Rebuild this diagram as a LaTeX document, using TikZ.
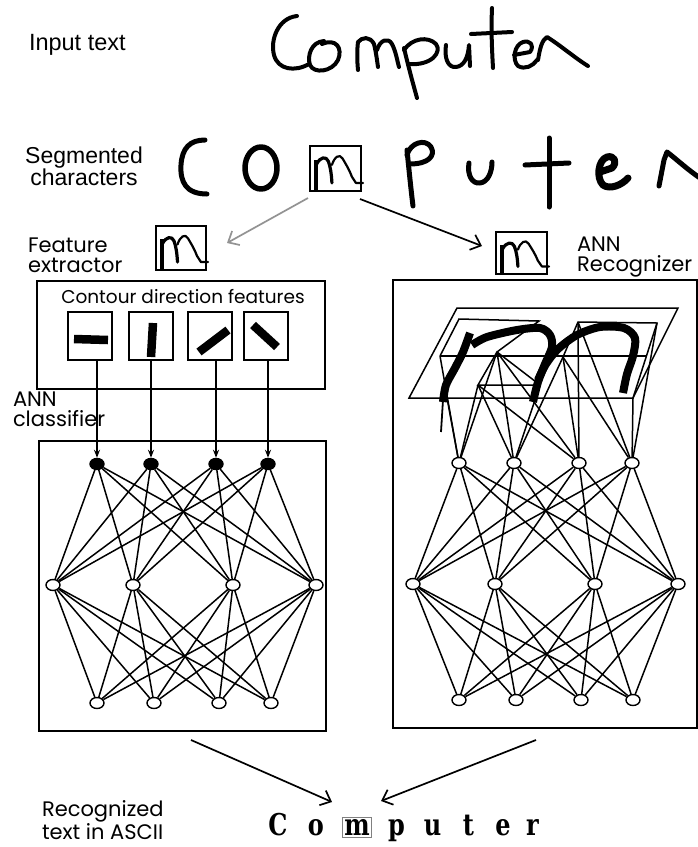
\documentclass[tikz,border=0pt]{standalone}
\usepackage{fontspec}
\setmainfont{Liberation Sans}
\newfontfamily\gothic{Poppins}
\newfontfamily\slab[FakeStretch=0.8]{DejaVu Serif}
\usetikzlibrary{arrows.meta,shapes.geometric}
\begin{document}
\begin{tikzpicture}[x=1pt,y=-1pt,
  ink/.style={line cap=round,line join=round},
  hand/.style={ink,line width=4pt},
  segink/.style={ink,line width=5pt},
  frame/.style={draw,line width=1.8pt,inner sep=0pt,outer sep=0pt},
  fbox/.style={frame,minimum width=44pt,minimum height=48pt},
  mbox/.style={draw,line width=1.8pt,inner sep=0pt,outer sep=0pt},
  wire/.style={line width=1.5pt},
  neuron/.style={ellipse,draw,line width=1.4pt,fill=white,minimum width=14pt,minimum height=11pt,inner sep=0pt},
  dark/.style={neuron,fill=black},
  bar/.style={line width=8.5pt,line cap=butt},
  flow/.style={line width=1.7pt,-{Straight Barb[length=9pt,width=16pt,line width=1.7pt]}},
  feed/.style={line width=1.5pt,-{Stealth[length=8pt,width=6pt]}},
  lab/.style={inner sep=0pt,outer sep=0pt,anchor=base west},
  hlab/.style={lab,font=\fontsize{23.5}{22}\selectfont},
  glab/.style={lab,align=left,font=\gothic\fontsize{21}{20}\selectfont},
  mglyph/.pic={
    \draw[line width=4.6pt,line cap=butt] (0.12,0.97) -- (0.12,0.3);
    \draw[line width=3.2pt,ink] (0.13,0.4) .. controls (0.2,0.24) and (0.32,0.22) .. (0.36,0.34) .. controls (0.4,0.46) and (0.42,0.62) .. (0.43,0.82);
    \draw[line width=2.2pt,ink] (0.43,0.42) .. controls (0.48,0.24) and (0.58,0.16) .. (0.64,0.28) .. controls (0.7,0.4) and (0.76,0.5) .. (0.82,0.68) -- (0.9,0.82) -- (1.04,0.82);
  },
]
\useasboundingbox (0,0) rectangle (697,847);

% ---------- Input text ----------
\node[hlab] (inlab) at (29,50) {Input text};
\draw[hand] (297,16) .. controls (278,18) and (270,40) .. (274,55) .. controls (278,70) and (295,72) .. (309,64);
\draw[hand] (324,41) .. controls (311,42) and (307,56) .. (310,65) .. controls (314,74) and (332,72) .. (338,60) .. controls (343,48) and (336,38) .. (322,44);
\draw[hand] (358,70) .. controls (357,60) and (357,50) .. (358,42) .. controls (362,37) and (370,36) .. (374,44) .. controls (376,52) and (377,60) .. (378,67);
\draw[hand] (377,50) .. controls (380,40) and (388,37) .. (392,44) .. controls (396,52) and (397,60) .. (399,67);
\draw[hand] (404,48) .. controls (408,65) and (412,80) .. (417,98);
\draw[hand] (404,50) .. controls (412,38) and (428,36) .. (436,44) .. controls (442,52) and (432,66) .. (408,64);
\draw[hand] (446,45) .. controls (444,58) and (448,68) .. (456,67) .. controls (464,66) and (468,58) .. (469,45) -- (470,66);
\draw[hand] (492,8) .. controls (491,30) and (492,50) .. (493,68);
\draw[hand] (471,34) -- (512,32);
\draw[hand] (514,55) -- (530,52) .. controls (535,45) and (530,40) .. (523,42) .. controls (514,45) and (512,60) .. (518,66) .. controls (525,70) and (533,66) .. (537,60);
\draw[hand] (538,60) .. controls (540,48) and (542,40) .. (547,37) .. controls (560,45) and (575,58) .. (588,66);

% ---------- Segmented characters ----------
\node[hlab,align=center,anchor=base,font=\fontsize{23}{22}\selectfont] (seglab) at (84,185) {Segmented\\characters};
\draw[segink] (205,140) .. controls (190,140) and (182,148) .. (181,165) .. controls (180,182) and (186,194) .. (207,194);
\draw[segink,line width=5.5pt] (261,168) ellipse [x radius=16, y radius=21];
\node[mbox,minimum width=51pt,minimum height=45pt] (segbox) at (335.5,168.5) {};
\pic[x=51pt,y=-45pt] at (segbox.north west) {mglyph};
\draw[segink] (407,150) .. controls (409,170) and (411,190) .. (413,206);
\draw[segink] (407,155) .. controls (410,143) and (425,138) .. (431,147) .. controls (436,156) and (428,164) .. (410,164);
\draw[segink] (469,163) .. controls (467,175) and (472,184) .. (480,183) .. controls (488,182) and (492,172) .. (492,162);
\draw[segink] (549,138) -- (549,207);
\draw[segink] (525,165) -- (569,163);
\draw[segink,line width=7pt] (600,172) -- (612,168) .. controls (618,162) and (614,155) .. (607,157) .. controls (598,160) and (596,178) .. (603,185) .. controls (610,190) and (622,185) .. (628,178);
\draw[segink] (659,186) -- (664,160) -- (667,152) .. controls (675,158) and (688,170) .. (700,178);

% ---------- split arrows ----------
\coordinate (ga) at (308,198);
\coordinate (gb) at (227,243);
\coordinate (ba) at (360,199);
\coordinate (bb) at (482,246);
\draw[flow,draw=gray!85] (ga) -- (gb);
\draw[flow] (ba) -- (bb);

% ---------- Feature extractor ----------
\node[glab] (featlab) at (28,272) {Feature\\extractor};
\node[mbox,minimum width=50pt,minimum height=44pt] (featbox) at (181,248) {};
\pic[x=50pt,y=-44pt] at (featbox.north west) {mglyph};

\node[frame,minimum width=288pt,minimum height=108pt] (cbox) at (181,335) {};
\node[lab,anchor=base,font=\gothic\fontsize{18.5}{20}\selectfont] (ctitle) at (183,303) {Contour direction features};
\node[fbox] (f1) at (90,336) {};
\node[fbox] (f2) at (151,336) {};
\node[fbox] (f3) at (210,336) {};
\node[fbox] (f4) at (266,336) {};
\draw[bar] (74,339) -- (108,340);
\draw[bar] (153,323) -- (151,357);
\draw[bar] (199,352) -- (228,330);
\draw[bar] (253,325) -- (277,347);

\node[glab,font=\gothic\fontsize{21}{19.5}\selectfont] (annlab) at (13,426) {ANN\\classifier};

% ---------- Left network ----------
\node[frame,minimum width=287pt,minimum height=290pt] (lbox) at (182.5,586) {};
\node[dark] (lt1) at (97,464) {};
\node[dark] (lt2) at (151,464) {};
\node[dark] (lt3) at (216,464) {};
\node[dark] (lt4) at (268,464) {};
\node[neuron] (lm1) at (53,585) {};
\node[neuron] (lm2) at (133,585) {};
\node[neuron] (lm3) at (233,585) {};
\node[neuron] (lm4) at (316,585) {};
\node[neuron] (lb1) at (97,703) {};
\node[neuron] (lb2) at (154,703) {};
\node[neuron] (lb3) at (219,703) {};
\node[neuron] (lb4) at (271,703) {};
\foreach \i in {1,...,4}{\foreach \j in {1,...,4}{
  \draw[wire] (lt\i) -- (lm\j);
  \draw[wire] (lm\i) -- (lb\j);}}
\draw[feed] (f1.south -| lt1) -- (lt1);
\draw[feed] (f2.south -| lt2) -- (lt2);
\draw[feed] (f3.south -| lt3) -- (lt3);
\draw[feed] (f4.south -| lt4) -- (lt4);

% ---------- ANN Recognizer ----------
\node[mbox,minimum width=51pt,minimum height=42pt] (recbox) at (521.5,253) {};
\pic[x=51pt,y=-42pt] at (recbox.north west) {mglyph};
\node[glab,font=\gothic\fontsize{21}{19.5}\selectfont] (reclab) at (577,271) {ANN\\Recognizer};

\node[frame,minimum width=304pt,minimum height=448pt] (rbox) at (545,504) {};
\node[neuron] (rt1) at (459,463) {};
\node[neuron] (rt2) at (514,463) {};
\node[neuron] (rt3) at (579,463) {};
\node[neuron] (rt4) at (632,463) {};
\node[neuron] (rm1) at (413,584) {};
\node[neuron] (rm2) at (495,584) {};
\node[neuron] (rm3) at (595,584) {};
\node[neuron] (rm4) at (678,584) {};
\node[neuron] (rb1) at (459,700) {};
\node[neuron] (rb2) at (516,700) {};
\node[neuron] (rb3) at (581,700) {};
\node[neuron] (rb4) at (633,700) {};
\foreach \i in {1,...,4}{\foreach \j in {1,...,4}{
  \draw[wire] (rt\i) -- (rm\j);
  \draw[wire] (rm\i) -- (rb\j);}}

% input plane in perspective
\coordinate (pA) at (457,308);
\coordinate (pB) at (678,308);
\coordinate (pC) at (633,398);
\coordinate (pD) at (409,398);
\coordinate (gL1) at (459,319);
\coordinate (gL2) at (539,321);
\coordinate (gL4) at (440,356);
\coordinate (gM) at (646,356);
\coordinate (gT1) at (497,352);
\coordinate (gT2) at (478,385);
\coordinate (gT3) at (540,385);
\coordinate (gR1) at (578,322);
\coordinate (gR2) at (657,323);
\coordinate (gR4) at (563,357);
\coordinate (gS) at (447,398);
\draw[wire] (pA) -- (pB) -- (pC) -- (pD) -- cycle;
\draw[wire] (gL4) -- (gM);
\draw[wire] (gL4) -- (gL1) -- (gL2) -- (gT1);
\draw[wire] (gT3) -- (gT2) -- (gT1) -- (gT3);
\draw[wire] (gR4) -- (gR1) -- (gR2) -- (pC);
\foreach \c in {gL4,gS,gT1,gT2}{\draw[wire] (\c) -- (rt1);}
\foreach \c in {gT1,gT2,gR4,gT3}{\draw[wire] (\c) -- (rt2);}
\foreach \c in {gT1,gT2,gR4,gR1}{\draw[wire] (\c) -- (rt3);}
\foreach \c in {gR1,gR2,pC,gR4}{\draw[wire] (\c) -- (rt4);}
% thick handwritten m on the plane
\draw[line width=1.8pt] (443,400) -- (441,432);
\draw[line width=8pt,line cap=butt,line join=round] plot[smooth] coordinates {(443,402) (446,385) (455,368) (463,352) (470,333)};
\draw[line width=8pt,line cap=butt,line join=round] plot[smooth] coordinates {(472,345) (487,337) (517,330) (540,328) (550,335) (552,347) (545,364) (538,382) (533,402)};
\draw[line width=8pt,line cap=butt,line join=round] plot[smooth] coordinates {(538,380) (546,364) (558,349) (577,335) (600,327) (624,328) (635,338) (633,356) (627,374) (623,393)};

% ---------- Output ----------
\coordinate (la) at (191,740);
\coordinate (lz) at (332,802);
\coordinate (ra) at (536,740);
\coordinate (rz) at (381,801);
\draw[flow] (la) -- (lz);
\draw[flow] (ra) -- (rz);
\node[glab,font=\gothic\fontsize{21}{20.5}\selectfont] (outlab) at (42,839) {Recognized\\text in ASCII};
\node[lab,font=\slab\bfseries\fontsize{30}{30}\selectfont] (ascii) at (260,835) {\makebox[36pt]{C}\makebox[40pt]{o}\makebox[42pt]{\fboxsep=1.5pt\fboxrule=1pt\fcolorbox{gray}{white}{m}}\makebox[37pt]{p}\makebox[35pt]{u}\makebox[37pt]{t}\makebox[32pt]{e}\makebox[27pt]{r}};
\end{tikzpicture}
\end{document}
